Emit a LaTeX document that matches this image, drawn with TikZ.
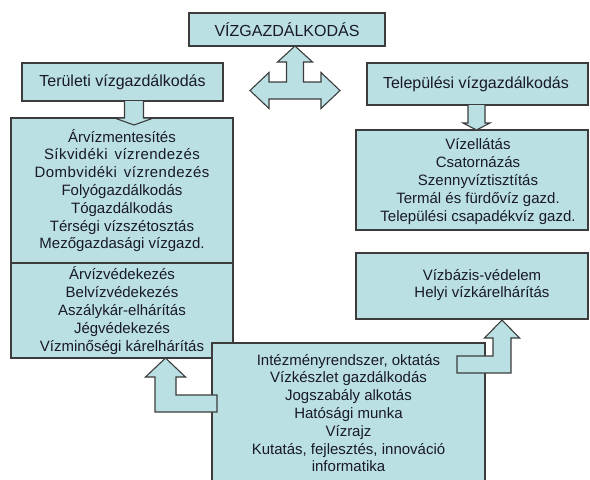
\documentclass[tikz,border=0pt]{standalone}
\usepackage{fontspec}
\setmainfont{Liberation Sans}
\definecolor{boxfill}{RGB}{186,224,228}
\definecolor{boxline}{RGB}{60,60,60}
\definecolor{txt}{RGB}{25,25,40}
\newcommand{\listfont}{\fontsize{15}{17.8}\selectfont}
\newcommand{\hdrfont}{\fontsize{16}{19}\selectfont}
\begin{document}
\begin{tikzpicture}[x=1pt,y=-1pt,
  panel/.style={draw=boxline, fill=boxfill, line width=1.2pt, inner sep=0pt, text=txt, align=center, font=\listfont},
  hdr/.style={panel, font=\hdrfont},
  label/.style={inner sep=0pt, text=txt, align=center, font=\listfont},
  blockarrow/.style={draw=boxline, fill=boxfill, line width=1.1pt, line join=miter}]
\useasboundingbox (0,0) rectangle (590,480);

% top
\node[hdr, minimum width=196pt, minimum height=33pt] (top) at (287,29.5) {VÍZGAZDÁLKODÁS};

% three-way arrow
\draw[blockarrow] (295,46) -- (312.5,62) -- (303.5,62) -- (303.5,82) -- (321,82) -- (321,72.5)
  -- (340,90.5) -- (321,108.5) -- (321,99) -- (269,99) -- (269,108.5) -- (250,90.5)
  -- (269,72.5) -- (269,82) -- (286.5,82) -- (286.5,62) -- (277.5,62) -- cycle;

% headers
\node[hdr, minimum width=201pt, minimum height=38pt] (terulet) at (122.5,82) {Területi vízgazdálkodás};
\node[hdr, minimum width=221pt, minimum height=42pt] (telepul) at (477.5,84) {};
\node[label, font=\hdrfont] (telepultxt) at (476,84) {Települési vízgazdálkodás};

% left big box
\node[panel, minimum width=222pt, minimum height=145pt] (lup) at (122,190.5) {Árvízmentesítés\\
{\addfontfeature{LetterSpace=3}Síkvidéki\hspace{7pt}vízrendezés}\\
{\addfontfeature{LetterSpace=3}Dombvidéki\hspace{7pt}vízrendezés}\\
Folyógazdálkodás\\Tógazdálkodás\\Térségi vízszétosztás\\Mezőgazdasági vízgazd.};
\node[panel, minimum width=222pt, minimum height=95pt] (llow) at (122,310.5) {Árvízvédekezés\\Belvízvédekezés\\Aszálykár-elhárítás\\Jégvédekezés\\Vízminőségi kárelhárítás};

% right big box
\node[panel, minimum width=232pt, minimum height=100pt] (rbig) at (472,180) {};
\node[label] (rbigtxt) at (478,181.5) {Vízellátás\\Csatornázás\\Szennyvíztisztítás\\Termál és fürdővíz gazd.\\Települési csapadékvíz gazd.};

% right middle box
\node[panel, minimum width=232pt, minimum height=66pt] (rmid) at (472,286) {};
\node[label] (rmidtxt) at (482,285) {Vízbázis-védelem\\Helyi vízkárelhárítás};

% bottom box
\node[panel, minimum width=273pt, minimum height=140pt] (bot) at (348.5,413) {Intézményrendszer, oktatás\\Vízkészlet gazdálkodás\\Jogszabály alkotás\\Hatósági munka\\Vízrajz\\Kutatás, fejlesztés, innováció\\informatika};

% small down arrows
\draw[blockarrow] (124.5,101) -- (124.5,118) -- (114.5,118) -- (134,125) -- (153.5,118) -- (143.5,118) -- (143.5,101);
\draw[blockarrow] (468,105) -- (468,123) -- (463,123) -- (476.5,130) -- (490,123) -- (485,123) -- (485,105);

% bent arrows from bottom box
\draw[blockarrow] (165.5,358) -- (185.5,377) -- (176,377) -- (176,395) -- (217,395) -- (217,412)
  -- (155,412) -- (155,377) -- (145.5,377) -- cycle;
\draw[blockarrow] (502,320) -- (519.5,338) -- (511,338) -- (511,373) -- (457,373) -- (457,356)
  -- (493,356) -- (493,338) -- (484.5,338) -- cycle;
\end{tikzpicture}
\end{document}
